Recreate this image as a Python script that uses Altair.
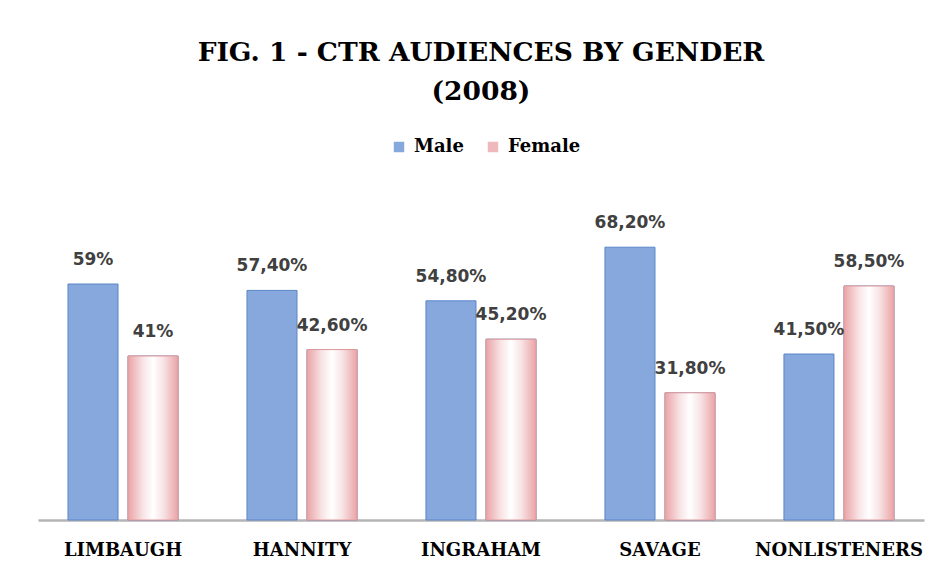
import altair as alt
import pandas as pd

hosts = ["LIMBAUGH", "HANNITY", "INGRAHAM", "SAVAGE", "NONLISTENERS"]
male = [59.0, 57.4, 54.8, 68.2, 41.5]
female = [41.0, 42.6, 45.2, 31.8, 58.5]
male_labels = ["59%", "57,40%", "54,80%", "68,20%", "41,50%"]
female_labels = ["41%", "42,60%", "45,20%", "31,80%", "58,50%"]
genders = ["Male", "Female"]

rows = []
for h, m, f, ml, fl in zip(hosts, male, female, male_labels, female_labels):
    rows.append({"host": h, "gender": "Male", "value": m, "label": ml})
    rows.append({"host": h, "gender": "Female", "value": f, "label": fl})
df = pd.DataFrame(rows)

serif = "DejaVu Serif"

x_enc = alt.X("host:N", sort=hosts, title=None,
              scale=alt.Scale(paddingInner=0.385, paddingOuter=0.1675),
              axis=alt.Axis(labelAngle=0, labelFont=serif, labelFontSize=18,
                            labelFontWeight="bold", labelColor="#000000",
                            labelPadding=21, ticks=False, domainColor="#b4b4b4",
                            domainWidth=2.5))
xo_enc = alt.XOffset("gender:N", sort=genders,
                     scale=alt.Scale(domain=genders, paddingInner=1/6))
y_enc = alt.Y("value:Q", scale=alt.Scale(domain=[0, 85], nice=False), axis=None)

base = alt.Chart(df)

bars = base.mark_bar(stroke="#5a86c8", strokeWidth=1).encode(
    x=x_enc, xOffset=xo_enc, y=y_enc,
    color=alt.Color("gender:N", sort=genders,
                    scale=alt.Scale(domain=genders, range=["#86a8dd", "#eeb8bc"]),
                    legend=alt.Legend(title=None, orient="none", direction="horizontal",
                                      legendX=352, legendY=-42,
                                      symbolType="square", symbolSize=110,
                                      symbolStrokeWidth=0,
                                      labelFont=serif, labelFontSize=18,
                                      labelFontWeight="bold", labelColor="#000000",
                                      columnPadding=20, labelOffset=6)),
)

female_grad = base.transform_filter(alt.datum.gender == "Female").mark_bar(
    stroke="#e29a9a", strokeWidth=1,
    fill=alt.Gradient(gradient="linear", x1=0, x2=1, y1=0, y2=0,
                      stops=[alt.GradientStop(color="#eaa3a6", offset=0),
                             alt.GradientStop(color="#f8e4e6", offset=0.3),
                             alt.GradientStop(color="#ffffff", offset=0.5),
                             alt.GradientStop(color="#f8e4e6", offset=0.7),
                             alt.GradientStop(color="#eaa3a6", offset=1)]),
).encode(x=x_enc, xOffset=xo_enc, y=y_enc)

labels = base.mark_text(baseline="bottom", dy=-15, font="DejaVu Sans",
                        fontSize=17, fontWeight="bold", color="#404040").encode(
    x=x_enc, xOffset=xo_enc, y=y_enc, text="label:N")

chart = alt.layer(bars, female_grad, labels).properties(
    width=886, height=340,
    padding={"left": 30, "top": 31, "right": 5, "bottom": 5},
    title=alt.TitleParams(["FIG. 1 - CTR AUDIENCES BY GENDER", "(2008)"],
                          font=serif, fontSize=26.5, fontWeight="bold",
                          color="#000000", lineHeight=39, offset=33,
                          anchor="middle"),
).configure_view(stroke=None)

chart.save("out.html", embed_options={"renderer": "svg", "actions": False})
